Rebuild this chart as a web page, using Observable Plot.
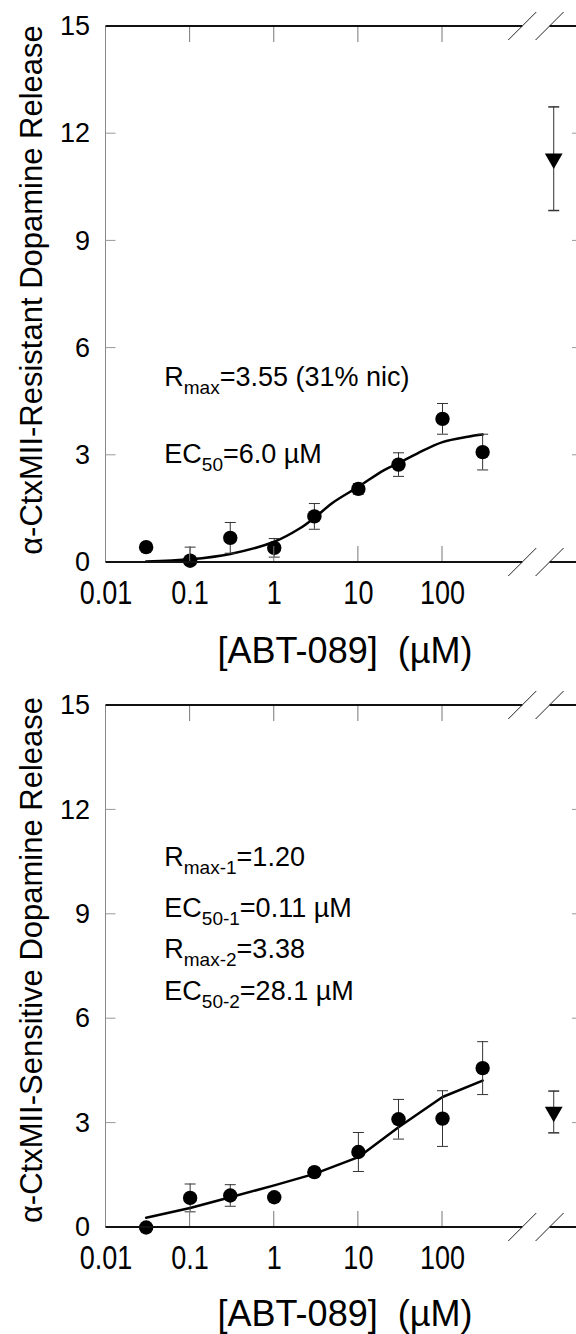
<!DOCTYPE html>
<html><head><meta charset="utf-8">
<script src="https://cdn.jsdelivr.net/npm/d3@7"></script>
<script src="https://cdn.jsdelivr.net/npm/@observablehq/plot@0.6"></script>
<style>
body{margin:0;background:#fff;}
#chart svg{display:block;overflow:visible;}
</style></head><body><div id="chart"></div>
<script>
// ---------- data ----------
const concentrations = [0.03, 0.1, 0.3, 1, 3, 10, 30, 100, 300];           // µM ABT-089
const resistantMean  = [0.43, 0.05, 0.69, 0.41, 1.29, 2.06, 2.74, 4.02, 3.09];
const resistantSem   = [0, 0.38, 0.43, 0.26, 0.36, 0.15, 0.33, 0.43, 0.50];
const sensitiveMean  = [0, 0.85, 0.92, 0.87, 1.59, 2.17, 3.11, 3.13, 4.58];
const sensitiveSem   = [0, 0.40, 0.31, 0.10, 0.12, 0.56, 0.57, 0.80, 0.76];

// fitted curves as drawn
const resistantFitConc = [0.03, 0.1, 0.3, 1, 2, 3, 5, 10, 20, 30, 50, 100, 200, 300];
const resistantFitVal  = [0.03, 0.09, 0.24, 0.58, 0.95, 1.25, 1.68, 2.12, 2.58, 2.78, 3.05, 3.37, 3.52, 3.58];
const sensitiveFitConc = [0.03, 0.1, 0.3, 1, 3, 10, 30, 100, 300];
const sensitiveFitVal  = [0.28, 0.56, 0.87, 1.21, 1.54, 2.02, 2.88, 3.75, 4.22];

// nicotine reference (plotted past the axis break)
const nicotineLabel    = ["nicotine"];
const nicotinePosition = [2100];
const resistantNicMean = [11.3];
const resistantNicSem  = [1.45];
const sensitiveNicMean = [3.32];
const sensitiveNicSem  = [0.6];

const xTicks = [0.01, 0.1, 1, 10, 100];
const yTicks = [0, 3, 6, 9, 12, 15];
const breakAt = [900, 1900];

const yLabels = ["\u03B1-CtxMII-Resistant Dopamine Release", "\u03B1-CtxMII-Sensitive Dopamine Release"];
const xLabel = "[ABT-089]\u00A0\u00A0(\u00B5M)";
const notesResistant = [
  [["R", ""], ["max", "sub"], ["=3.55 (31% nic)", ""]],
  [["EC", ""], ["50", "sub"], ["=6.0 \u00B5M", ""]]
];
const notesSensitive = [
  [["R", ""], ["max-1", "sub"], ["=1.20", ""]],
  [["EC", ""], ["50-1", "sub"], ["=0.11 \u00B5M", ""]],
  [["R", ""], ["max-2", "sub"], ["=3.38", ""]],
  [["EC", ""], ["50-2", "sub"], ["=28.1 \u00B5M", ""]]
];

// ---------- layout ----------
const FONT = "'Liberation Sans', Arial, Helvetica, sans-serif";
const W = 576;
const NS = "http://www.w3.org/2000/svg";
const X_TICK_STRETCH = 1.25;

const capSymbol = {draw(ctx, size) { const w = Math.sqrt(size / Math.PI); ctx.moveTo(-w, 0); ctx.lineTo(w, 0); }};

function el(parent, tag, attrs, text) {
  const e = document.createElementNS(NS, tag);
  for (const k in attrs) e.setAttribute(k, attrs[k]);
  if (text != null) e.textContent = text;
  parent.appendChild(e);
  return e;
}

function panel(cfg) {
  const H = cfg.height;
  const pts = concentrations.map((c, i) => ({c, m: cfg.mean[i], s: cfg.sem[i]}));
  const errs = pts.filter(d => d.s > 0);
  const lowCaps = errs.filter(d => d.m - d.s > 0);
  const nic = nicotineLabel.map((k, i) => ({k, c: nicotinePosition[i], m: cfg.nicMean[i], s: cfg.nicSem[i]}));
  const fit = cfg.fitX.map((x, i) => ({x, y: cfg.fitY[i]}));
  const errColor = "#333";

  const svg = Plot.plot({
    width: W, height: H,
    marginLeft: 105.5, marginRight: 0, marginTop: cfg.top, marginBottom: H - cfg.bottom,
    style: {fontFamily: FONT, fontSize: "27px", color: "#000", background: "#fff", overflow: "visible"},
    x: {type: "log", domain: [0.01, 100], range: [105.5, 442], ticks: xTicks, tickFormat: d => String(d), tickSize: 0, tickPadding: 16, label: null},
    y: {domain: [0, 15], ticks: yTicks, tickSize: 0, tickPadding: 16, label: null},
    marks: [
      Plot.line(fit, {x: "x", y: "y", stroke: "#000", strokeWidth: 2.5, curve: cfg.curve}),
      Plot.ruleX(errs, {x: "c", y1: d => Math.max(0, d.m - d.s), y2: d => d.m + d.s, stroke: errColor, strokeWidth: 1}),
      Plot.dot(errs, {x: "c", y: d => d.m + d.s, symbol: capSymbol, r: 5.5, stroke: errColor, fill: "none", strokeWidth: 1}),
      Plot.dot(lowCaps, {x: "c", y: d => d.m - d.s, symbol: capSymbol, r: 5.5, stroke: errColor, fill: "none", strokeWidth: 1}),
      Plot.dot(pts, {x: "c", y: "m", r: 7.2, fill: "#000", stroke: "none"}),
      Plot.ruleX(nic, {x: "c", y1: d => d.m - d.s, y2: d => d.m + d.s, stroke: errColor, strokeWidth: 1}),
      Plot.dot(nic, {x: "c", y: d => d.m + d.s, symbol: capSymbol, r: 5.5, stroke: errColor, fill: "none"}),
      Plot.dot(nic, {x: "c", y: d => d.m - d.s, symbol: capSymbol, r: 5.5, stroke: errColor, fill: "none"}),
      Plot.dot(nic, {x: "c", y: "m", symbol: "triangle", rotate: 180, r: 6.6, fill: "#000", stroke: "none"})
    ]
  });

  const xs = svg.scale("x"), ys = svg.scale("y");
  const x0 = xs.apply(0.01), y0 = ys.apply(0), yT = ys.apply(15);
  const bx1 = xs.apply(breakAt[0]), bx2 = xs.apply(breakAt[1]);
  const g = el(svg, "g", {"text-anchor": "start", class: "deco"});
  // left axis
  el(g, "line", {x1: x0, x2: x0, y1: yT, y2: y0, stroke: "#888", "stroke-width": 1});
  // y ticks (inward) and right-edge ticks
  for (const t of yTicks.slice(1, -1)) {
    el(g, "line", {x1: x0, x2: x0 + 10, y1: ys.apply(t), y2: ys.apply(t), stroke: "#999", "stroke-width": 1});
    el(g, "line", {x1: W - 4, x2: W, y1: ys.apply(t), y2: ys.apply(t), stroke: "#999", "stroke-width": 1});
  }
  // x ticks (inward) top and bottom
  for (const t of xTicks.slice(1)) {
    const xp = xs.apply(t);
    el(g, "line", {x1: xp, x2: xp, y1: y0, y2: y0 - 16, stroke: "#777", "stroke-width": 1});
    el(g, "line", {x1: xp, x2: xp, y1: yT, y2: yT + 16, stroke: "#777", "stroke-width": 1});
  }
  // top and bottom axis lines with break
  for (const yy of [y0, yT]) {
    el(g, "line", {x1: x0, x2: bx1, y1: yy, y2: yy, stroke: "#111", "stroke-width": 2});
    el(g, "line", {x1: bx2, x2: W, y1: yy, y2: yy, stroke: "#111", "stroke-width": 2});
    for (const bx of [bx1, bx2]) el(g, "line", {x1: bx - 14, x2: bx + 14, y1: yy + 14, y2: yy - 14, stroke: "#222", "stroke-width": 1});
  }
  // y label
  el(g, "text", {transform: `translate(31,${cfg.yLabelCenter}) rotate(-90)`, "text-anchor": "middle", "dominant-baseline": "central", "font-size": 31, "font-family": FONT, fill: "#000"}, cfg.yLabel);
  // x label
  el(g, "text", {x: 345, y: cfg.xLabelBaseline, "text-anchor": "middle", "font-size": 36, "font-family": FONT, fill: "#000"}, xLabel);
  // notes
  cfg.notes.forEach((line, i) => {
    const t = el(g, "text", {x: xs.apply(cfg.noteX), y: ys.apply(cfg.noteY[i]), "text-anchor": "start", "font-size": 27, "font-family": FONT, fill: "#000"});
    let prevSub = false;
    for (const [s, kind] of line) {
      if (kind === "sub") {
        el(t, "tspan", {"font-size": 19, dy: 8}, s);
        prevSub = true;
      } else {
        const sp = el(t, "tspan", {}, s);
        if (prevSub) sp.setAttribute("dy", -8);
        prevSub = false;
      }
    }
  });
  return svg;
}

// taller x tick labels, as in the original figure
const xTickStrings = xTicks.map(String);
function stretchXTickLabels(svg) {
  svg.querySelectorAll("text").forEach(t => {
    if (t.closest(".deco")) return;
    if (!xTickStrings.includes(t.textContent.trim())) return;
    const b = t.getBBox();
    const tr = t.getAttribute("transform") || "";
    t.setAttribute("transform", `${tr} translate(0,${b.y}) scale(1,${X_TICK_STRETCH}) translate(0,${-b.y})`.trim());
  });
}

const root = document.getElementById("chart");
const p1 = panel({
  mean: resistantMean, sem: resistantSem, fitX: resistantFitConc, fitY: resistantFitVal, curve: "catmull-rom",
  nicMean: resistantNicMean, nicSem: resistantNicSem, height: 672, top: 26, bottom: 562,
  yLabel: yLabels[0], yLabelCenter: 290, xLabelBaseline: 663,
  notes: notesResistant, noteX: 0.05, noteY: [4.92, 2.77]
});
const p2 = panel({
  mean: sensitiveMean, sem: sensitiveSem, fitX: sensitiveFitConc, fitY: sensitiveFitVal, curve: "linear",
  nicMean: sensitiveNicMean, nicSem: sensitiveNicSem, height: 662, top: 33, bottom: 555,
  yLabel: yLabels[1], yLabelCenter: 288, xLabelBaseline: 654,
  notes: notesSensitive, noteX: 0.05, noteY: [10.37, 8.91, 7.73, 6.52]
});
root.appendChild(p1);
root.appendChild(p2);
stretchXTickLabels(p1);
stretchXTickLabels(p2);
</script></body></html>
